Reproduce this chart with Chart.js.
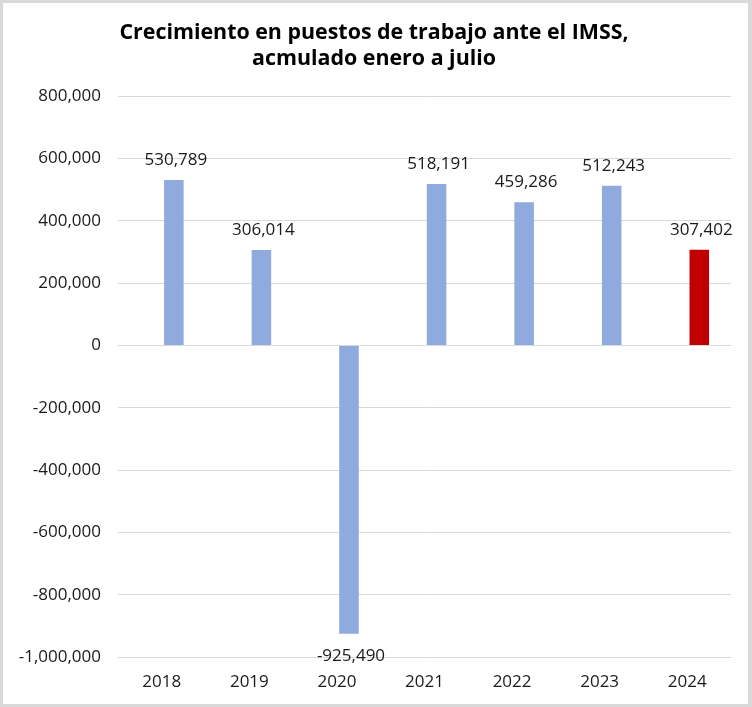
<!DOCTYPE html>
<html>
<head>
<meta charset="utf-8">
<script src="https://cdn.jsdelivr.net/npm/chart.js@4"></script>
<style>
  html, body { margin: 0; padding: 0; background: #fff; }
  #wrap { width: 745px; height: 701px; border-style: solid; border-color: #d9d9d9; border-width: 3px 4px 3px 3px; position: relative; }
  canvas { display: block; }
</style>
</head>
<body>
<div id="wrap"><canvas id="c" width="745" height="701"></canvas></div>
<script>
const categories = ['2018', '2019', '2020', '2021', '2022', '2023', '2024'];
const values = [530789, 306014, -925490, 518191, 459286, 512243, 307402];
const barColors = ['#8faadc', '#8faadc', '#8faadc', '#8faadc', '#8faadc', '#8faadc', '#c00000'];
const titleLines = ['Crecimiento en puestos de trabajo ante el IMSS,', 'acmulado enero a julio'];
const yMin = -1000000, yMax = 800000, yStep = 200000;

const FONT = '"Open Sans", "Noto Sans", sans-serif';
const fmt = v => v.toLocaleString('en-US');

const labelPlugin = {
  id: 'barLabels',
  afterDatasetsDraw(chart) {
    const ctx = chart.ctx;
    const meta = chart.getDatasetMeta(1);
    ctx.save();
    ctx.font = '17px ' + FONT;
    ctx.fillStyle = '#1a1a1a';
    ctx.textAlign = 'center';
    ctx.textBaseline = 'middle';
    meta.data.forEach((bar, i) => {
      const v = values[i];
      const y = v >= 0 ? bar.y - 20 : bar.y + 22;
      ctx.fillText(fmt(v), bar.x + 2, y);
    });
    ctx.restore();
  }
};

new Chart(document.getElementById('c'), {
  type: 'bar',
  data: {
    labels: categories,
    datasets: [
      { label: 'vacío', data: [], backgroundColor: 'rgba(0,0,0,0)' },
      { label: 'Puestos', data: values, backgroundColor: barColors, borderWidth: 0 }
    ]
  },
  options: {
    responsive: false,
    animation: false,
    events: [],
    layout: { padding: { left: 14, right: 17, top: 0, bottom: 12 } },
    datasets: { bar: { categoryPercentage: 0.551, barPercentage: 0.81 } },
    plugins: {
      legend: { display: false },
      tooltip: { enabled: false },
      title: {
        display: true,
        text: titleLines,
        color: '#000',
        font: { family: FONT, size: 21.4, weight: 'bold', lineHeight: 1.22 },
        padding: { top: 17, bottom: 24 }
      }
    },
    scales: {
      x: {
        afterFit(scale) { scale.height = 35; },
        grid: { display: false, drawTicks: false },
        border: { display: false },
        ticks: { color: '#1a1a1a', font: { family: FONT, size: 17 }, padding: 15 }
      },
      y: {
        min: yMin, max: yMax,
        afterFit(scale) { scale.width = 101; },
        grid: { color: '#d9d9d9', drawTicks: false, lineWidth: 1 },
        border: { display: false },
        ticks: {
          stepSize: yStep,
          color: '#1a1a1a',
          font: { family: FONT, size: 17 },
          padding: 17,
          callback: v => fmt(v)
        }
      }
    }
  },
  plugins: [labelPlugin]
});
</script>
</body>
</html>
